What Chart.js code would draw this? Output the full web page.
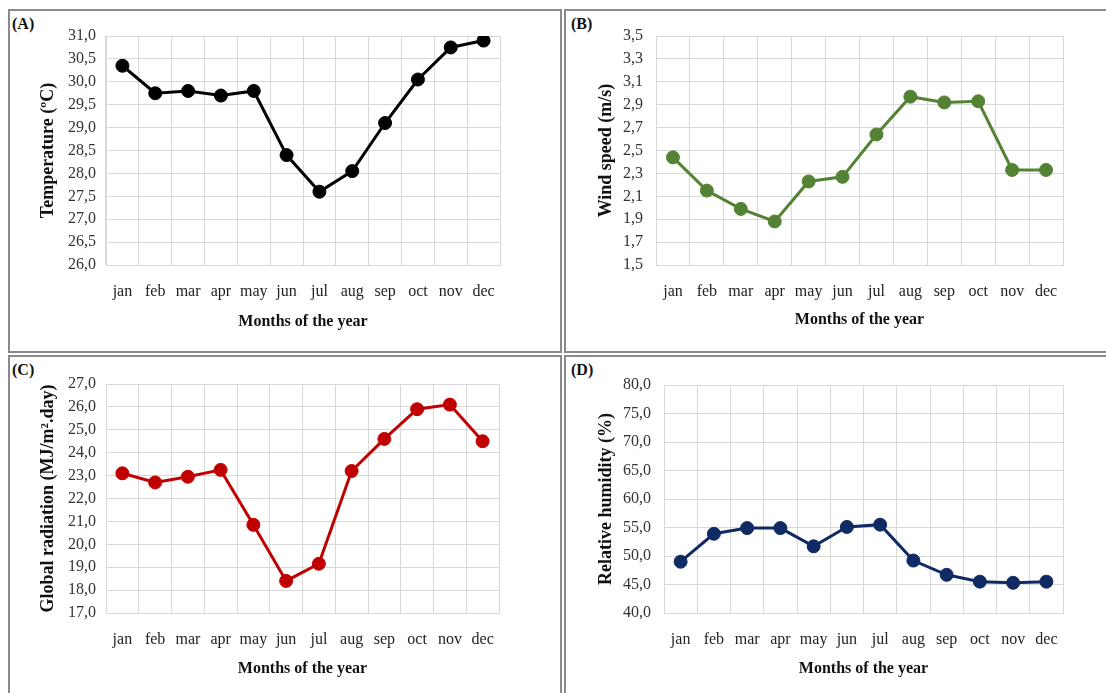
<!DOCTYPE html>
<html>
<head>
<meta charset="utf-8">
<script src="https://cdn.jsdelivr.net/npm/chart.js@4.4.1/dist/chart.umd.min.js"></script>
<style>
  body { margin: 0; background: #fff; width: 1106px; height: 693px; overflow: hidden; position: relative; font-family: "Liberation Serif", serif; }
  .box { position: absolute; border: 2px solid #8a8a8a; box-sizing: border-box; }
  .wrap { position: absolute; }
  .tag { position: absolute; font: bold 16px "Liberation Serif", serif; color: #111; }
</style>
</head>
<body>
<div class="box" style="left:8px;top:9px;width:554px;height:344px"></div>
<div class="box" style="left:564px;top:9px;width:560px;height:344px"></div>
<div class="box" style="left:8px;top:355px;width:554px;height:360px"></div>
<div class="box" style="left:564px;top:355px;width:560px;height:360px"></div>

<div class="tag" style="left:12px;top:15px">(A)</div>
<div class="tag" style="left:571px;top:15px">(B)</div>
<div class="tag" style="left:12px;top:361px">(C)</div>
<div class="tag" style="left:571px;top:361px">(D)</div>

<div class="wrap" style="left:10px;top:11px"><canvas id="chartA" width="550" height="340"></canvas></div>
<div class="wrap" style="left:567px;top:11px"><canvas id="chartB" width="539" height="340"></canvas></div>
<div class="wrap" style="left:10px;top:358px"><canvas id="chartC" width="550" height="335"></canvas></div>
<div class="wrap" style="left:567px;top:358px"><canvas id="chartD" width="539" height="335"></canvas></div>

<script>
const months = ['jan', 'feb', 'mar', 'apr', 'may', 'jun', 'jul', 'aug', 'sep', 'oct', 'nov', 'dec'];

const temperature = [30.35, 29.75, 29.8, 29.7, 29.8, 28.4, 27.6, 28.05, 29.1, 30.05, 30.75, 30.9];
const windSpeed   = [2.44, 2.15, 1.99, 1.88, 2.23, 2.27, 2.64, 2.97, 2.92, 2.93, 2.33, 2.33];
const radiation   = [23.1, 22.7, 22.95, 23.25, 20.85, 18.4, 19.15, 23.2, 24.6, 25.9, 26.1, 24.5];
const humidity    = [49.0, 53.9, 54.9, 54.9, 51.7, 55.1, 55.5, 49.2, 46.7, 45.5, 45.3, 45.5];

const xTitle = 'Months of the year';

const SERIF = '"Liberation Serif", "Times New Roman", serif';
const GRID = '#d9d9d9';

const makePanel = function(id, values, color, yTitle, yMin, yMax, yStep, geo) {
  const ctx = document.getElementById(id);
  return new Chart(ctx, {
    type: 'line',
    data: {
      labels: months,
      datasets: [{
        data: values,
        borderColor: color,
        backgroundColor: color,
        borderWidth: 3,
        pointRadius: 6.5,
        pointHoverRadius: 6.5,
        pointBorderWidth: 1,
        tension: 0
      }]
    },
    options: {
      responsive: false,
      animation: false,
      devicePixelRatio: 1,
      layout: { padding: { top: geo.padTop, right: geo.padRight, left: 0, bottom: 0 } },
      plugins: { legend: { display: false }, tooltip: { enabled: false } },
      scales: {
        x: {
          offset: true,
          grid: { offset: true, color: GRID, lineWidth: 1, drawTicks: false },
          border: { color: GRID },
          ticks: { color: '#222', padding: geo.xTickPad, font: { family: SERIF, size: 16 }, maxRotation: 0, autoSkip: false },
          title: { display: true, text: xTitle, color: '#111', font: { family: SERIF, size: 16, weight: 'bold' }, padding: { top: 0, bottom: geo.xTitlePad } },
          afterFit: s => { s.height = geo.xHeight; }
        },
        y: {
          min: yMin,
          max: yMax,
          grid: { color: GRID, lineWidth: 1, drawTicks: false },
          border: { color: GRID },
          ticks: {
            stepSize: yStep,
            color: '#333',
            padding: geo.yTickPad,
            font: { family: SERIF, size: 16 },
            callback: v => v.toFixed(1).replace('.', ',')
          },
          title: { display: true, text: yTitle, color: '#111', font: { family: SERIF, size: 18, weight: 'bold' }, padding: { top: geo.yTitlePad, bottom: 0 } },
          afterFit: s => { s.width = geo.yWidth; }
        }
      }
    }
  });
};

makePanel('chartA', temperature, '#000000', 'Temperature (ºC)', 26, 31, 0.5,
  { padTop: 25, padRight: 60, yWidth: 96, xHeight: 86, xTickPad: 17, xTitlePad: 20, yTickPad: 10, yTitlePad: 28 });
makePanel('chartB', windSpeed, '#548235', 'Wind speed (m/s)', 1.5, 3.5, 0.2,
  { padTop: 25, padRight: 43, yWidth: 89, xHeight: 86, xTickPad: 17, xTitlePad: 22, yTickPad: 13, yTitlePad: 29 });
makePanel('chartC', radiation, '#c00000', 'Global radiation (MJ/m².day)', 17, 27, 1,
  { padTop: 26, padRight: 61, yWidth: 96, xHeight: 80, xTickPad: 17, xTitlePad: 15, yTickPad: 10, yTitlePad: 28 });
makePanel('chartD', humidity, '#102a63', 'Relative humidity (%)', 40, 80, 5,
  { padTop: 27, padRight: 43, yWidth: 97, xHeight: 80, xTickPad: 17, xTitlePad: 15, yTickPad: 13, yTitlePad: 29 });
</script>
</body>
</html>
